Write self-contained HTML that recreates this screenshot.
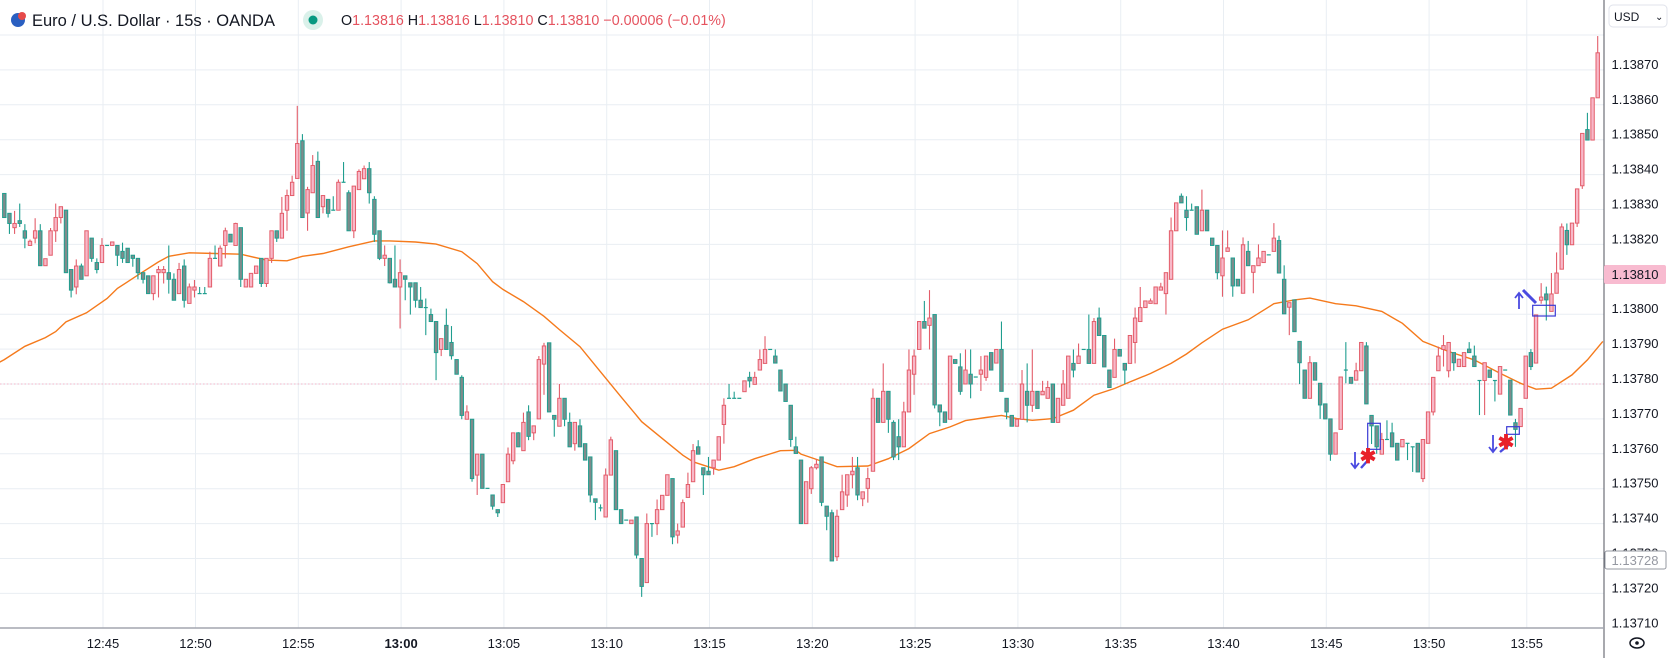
<!DOCTYPE html>
<html><head><meta charset="utf-8">
<style>
html,body{margin:0;padding:0;background:#fff;}
body{width:1677px;height:658px;overflow:hidden;position:relative;font-family:"Liberation Sans",sans-serif;}
svg{position:absolute;left:0;top:0;}
</style></head>
<body>
<svg id="chart" width="1677" height="658" viewBox="0 0 1677 658" xmlns="http://www.w3.org/2000/svg">
  <g id="grid"></g>
  <line x1="0" y1="384" x2="1604" y2="384" stroke="#f3b6c8" stroke-width="1" stroke-dasharray="1.5,2"/>
  <g id="ma"></g>
  <g id="candles"></g>
  <g id="annotations">
    <rect x="1367.7" y="423.3" width="12.6" height="26" fill="none" stroke="#3a3ad4" stroke-width="1.2"/>
    <path d="M1355,452 L1355,468 M1351,463 L1355,468 L1359,463" fill="none" stroke="#4a4ae0" stroke-width="1.8"/>
    <line x1="1361" y1="468" x2="1370" y2="458" stroke="#4a4ae0" stroke-width="2.4"/>
    <text x="1368" y="463" font-size="20" font-weight="bold" fill="#e8202a" text-anchor="middle">✱</text>
    <rect x="1506.7" y="426.7" width="12.6" height="7.6" fill="none" stroke="#3a3ad4" stroke-width="1.2"/>
    <path d="M1493,435 L1493,452 M1489,447 L1493,452 L1497,447" fill="none" stroke="#4a4ae0" stroke-width="1.8"/>
    <line x1="1500" y1="452" x2="1511" y2="443" stroke="#4a4ae0" stroke-width="2.4"/>
    <text x="1506" y="449" font-size="20" font-weight="bold" fill="#e8202a" text-anchor="middle">✱</text>
    <rect x="1532.7" y="305.3" width="22.6" height="10.7" fill="none" stroke="#3a3ad4" stroke-width="1.2"/>
    <path d="M1519,309 L1519,293 M1515,298 L1519,293 L1523,298" fill="none" stroke="#4a4ae0" stroke-width="1.8"/>
    <line x1="1523" y1="290" x2="1536" y2="303" stroke="#4a4ae0" stroke-width="3"/>
  </g>
  <rect x="1604" y="0" width="73" height="658" fill="#fff"/>
  <rect x="0" y="628" width="1604" height="30" fill="#fff"/>
  <line x1="1604" y1="0" x2="1604" y2="658" stroke="#50535e" stroke-width="1"/>
  <line x1="0" y1="628" x2="1604" y2="628" stroke="#a3a6af" stroke-width="1.5"/>
  <g id="yticks"></g>
  <g id="xticks"></g>
  <rect x="1604" y="265" width="62" height="19" rx="2" fill="#f8bbd0"/>
  <text x="1635" y="279" font-size="13" fill="#131722" text-anchor="middle">1.13810</text>
  <rect x="1605" y="551" width="61" height="18" rx="2" fill="#fff" stroke="#9598a1"/>
  <text x="1635" y="565" font-size="13" fill="#9598a1" text-anchor="middle">1.13728</text>
  <rect x="1609" y="5" width="58" height="22" rx="4" fill="#fff" stroke="#e0e3eb"/>
  <text x="1614" y="21" font-size="12" fill="#131722">USD</text>
  <text x="1655" y="20" font-size="10" fill="#131722">⌄</text>
  <g>
    <ellipse cx="1637" cy="643" rx="7" ry="5" fill="none" stroke="#131722" stroke-width="1.5"/>
    <circle cx="1637" cy="643" r="1.8" fill="#131722"/>
  </g>
  <g>
    <circle cx="18" cy="20" r="7" fill="#2a5fc1"/>
    <circle cx="22" cy="16" r="4" fill="#e64a4a"/>
    <text x="32" y="26" font-size="16.5" fill="#131722">Euro / U.S. Dollar · 15s · OANDA</text>
  </g>
  <circle cx="313" cy="20" r="10" fill="#daf1ea"/>
  <circle cx="313" cy="20" r="4.5" fill="#089981"/>
  <text x="341" y="25" font-size="14.3"><tspan fill="#131722">O</tspan><tspan fill="#e5535f">1.13816 </tspan><tspan fill="#131722">H</tspan><tspan fill="#e5535f">1.13816 </tspan><tspan fill="#131722">L</tspan><tspan fill="#e5535f">1.13810 </tspan><tspan fill="#131722">C</tspan><tspan fill="#e5535f">1.13810 −0.00006 (−0.01%)</tspan></text>
</svg>
<script>
const opens=[134.6,128.9,124.8,126.8,123.9,119.7,121.8,123.9,113.9,116.9,123.9,127.7,129.8,112.8,107.8,113.8,111,121.8,114.8,114.8,119.7,119.7,119.7,118,118.9,116.9,116,111.9,111,105.9,111.9,111.9,111.9,110,105.9,113.8,103.1,106.9,105.9,105.9,107.8,116,113.8,119.7,122.9,119.7,124.8,107.8,107.8,111.7,116,108.8,116,123.9,121.8,129.8,134,138.9,149.7,129,134.8,143.8,130.8,132.9,129.8,129.8,137.8,134.8,123.9,135.7,138.8,141.7,132.9,123.9,116,116,110,107.8,111,109,109,104,101.9,99.9,97.9,89.9,96.8,91.9,87,81.9,69.9,69.9,53.9,59.9,50.1,48.2,44,46,52,58,66,60.9,72,66,70,85.7,91.8,71,67.9,75.9,69,62.9,68,62.9,59.1,47.1,44.5,41.9,53.9,60.9,44,41,40,41.9,30,23.1,40,40,44,48.1,52.9,36.7,39,47.5,52,62,56,55,56,58.2,68.4,75.9,75.9,75.9,77.8,81.9,79.9,84,85.9,89.9,88,84,80,73.9,62,58.2,40,50,56,59.1,45,43.1,30.5,44,48.2,54,56,47.1,50.1,55,75.9,69,77.9,69,64.9,62,72,82.8,89.9,97.9,96.8,99.9,74,72,69.9,87,84.9,80,82.8,82,82.8,81.9,89,86,89.9,75.9,71,67.9,69.9,77.9,73.9,77.9,76.9,75.9,80,69,73.9,75.9,85.9,85.9,89.9,89.9,85.9,98.9,93.9,84,81.9,89.9,85.9,85.9,91.9,97.9,101.9,103.1,103,106.9,105.9,110,123.9,133.8,129.8,129.8,130.8,123.9,129.8,121.8,119.7,111,118,116.1,110,106,118,112,113.9,114.8,117,118,121.1,110,102,104.1,92.2,84,75.9,86.1,80.2,74.3,70,59.9,67,84,81.9,81.1,83.8,90.9,71,68,59.9,64.1,66,63,62,63,62,63,52.9,63,72,83.8,89.9,83.8,89,85,85,90,88,81,81,84,81,77.1,84,81.1,68.9,67.8,75.9,89,86,104,105.8,100.8,106,112.9,124,119.9,126.1,136.8,152.9,149.9,162];
const highs=[134.6,128.9,129.6,131.7,125.8,121.4,127.5,125.8,115.9,124.7,131.7,130.8,129.8,112.8,115.7,114.5,123.9,121.8,116,121.8,119.7,120.7,119.7,120.5,118.9,116.9,116,111.9,111,111,113.8,113.8,119.7,111.7,114.7,115.7,108.8,109.8,107.8,107.8,117.9,119.7,119.7,124.8,122.9,126.2,124.8,110,111.7,113.8,116,116,123.9,123.9,133.6,135.7,139.7,159.7,151.6,136.5,145.6,146.6,134,132.9,133.8,138.6,143.6,135.5,136.7,141.5,142.6,143.6,133.8,123.9,119.7,116,119.7,115.7,111,109,109,107.8,104.5,101.6,97.9,93,101.6,96.6,87,82.5,73.9,69.9,59.9,59.9,50.1,48.2,44,51.2,61.8,66,66.2,71.8,73.9,68,88,91.8,91.8,71,80,75.9,71.8,69,69.9,62.9,59.1,47.1,45.5,55.8,64.9,60.9,44,41,41,41.9,30,42.9,40,46.9,48.1,54,52.9,40,46.9,54.6,62.8,63.9,56,59.1,58.2,64.9,75.9,80,77.8,75.9,80.9,83.5,83.5,89.9,93.7,89.9,89.9,84,80,73.9,64.9,58.2,52,56.5,58.5,59.1,45,44,44,54,54,59.1,59.1,49.1,56,78.7,75.9,85.9,77.9,69.6,69.9,74.9,89.9,89.9,97.9,103.8,106.9,99.9,74,72,88,87,88.8,89.9,89.9,82,88,88,89,89.9,97.9,75.9,71,69.9,84,85.9,89.9,77.9,80.9,80.9,80,75.9,84,88,89.9,91.6,89.9,99.9,98.9,101.9,93.9,84,93,89.9,85.9,93.9,101.9,107.8,103.8,104.5,107.8,109,111.9,127.7,131.9,134.6,133.8,131.7,130.8,135.7,129.8,121.8,119.7,124,124,116.1,110,122,121,113.9,120,118,117,126.1,122.5,114,103.3,104.1,92.2,84,88,86.1,80.2,74.3,70,66,82,92,81.9,86.1,91.9,92,71,68,66,69.6,68.9,63,64.1,63,62,63,64.1,72,81.9,90.7,94,91.9,89,87.1,89,92,91,81,86.1,84,81,85,84,81.1,70,73,88,90,99.8,108.9,107.9,111.8,117.7,126,126,126.1,135.9,151.8,157.7,162,179.7];
const lows=[127.7,123,123,125,118.9,119.7,120.3,113.9,113.9,116.9,120.7,126,111.9,104.8,105.7,110,111,115,111.7,114.8,119.7,119.7,113.8,114.7,114.8,113.6,110,108.8,105.9,104,104.8,108.8,105.9,104,105.9,101.9,103.1,104.8,105.9,105.9,107.8,116,113.8,116,120.7,119.7,107.8,107.8,107.8,111.7,107.8,107.8,114.7,120.7,121.8,123.9,134,138.9,127.7,123.9,134.8,127.7,128.9,127.7,129.8,129.8,137.8,123.9,121.8,135.7,138.8,131.7,120.7,115.5,113.8,108.8,107.8,95.9,104,99.9,101.9,101.9,94,97.9,81.1,88,89.9,87,82.8,69.9,69.9,52,48.2,50.1,50.1,44,41.9,46,52,57,62,60.9,63.9,63.9,70,76.9,72,64.9,67.9,67.9,62,60.9,62,58.2,46.1,41,43.5,41.9,53.9,44,40,41,40,30,19,23.1,36.2,36.7,44,48.1,34.1,34.3,39,47.5,52,59.9,48.2,54,54,58.2,62.9,75.9,75.9,75.9,77.8,79,79.9,84,85.9,89.9,86,78,75,62,60.1,40,40,48.5,55.5,45,38.1,29.3,29.3,44,44.8,50.1,46.7,45,46,55,69,69,66,58.2,58.2,62,72,76.9,89.9,96,89.9,73,67.9,69,69.9,85.9,76.9,80,75.9,82,78,80.9,84,86,77.9,69.9,67.9,67.9,69.9,69,72,73,76.9,75.9,69,69,73.9,75.9,81.9,85.9,89.9,85.9,85.9,93.9,84.9,79,81.9,88,80,85.9,85.9,97.9,101.9,103.1,103,106.9,99.9,110,123.9,131.9,123.9,129.8,122.9,123.9,123.9,119.7,110,105,118,105,108.1,106,113.9,106,113.9,114.8,117,118,111.8,100.1,94,95,80,75.9,75.9,81.1,70,70,58,59.9,67,80.2,80.2,81.1,83.8,74.3,62.8,60,59.9,64.1,62,58.2,62,58.2,54.8,54.8,51.9,63,71,83.8,85,81.9,83.8,85,85,89,85,71.1,71.1,81.9,75,77.1,84,71.1,62,67.8,75.9,84,86,103,98.2,100.8,106,112.9,117,119.9,125,135.9,149.9,149.9,162];
const closes=[127.7,126,126,126,121.8,120.9,123.9,113.9,115.9,123.9,127.7,130.8,111.9,106.9,113.8,110,123.9,116,112.8,119.7,119.7,120.7,116.9,116,114.8,116,111.9,110,105.9,111,112.8,112.8,110,104,112.8,104,107.8,107.8,105.9,105.9,116,116,118.9,123.9,120.7,126,110,110,111.7,113.8,108.8,116,123.9,121.8,128.9,134,137.8,148.9,127.7,135.7,142.6,127.7,134,128.9,129.8,137.8,137.8,123.9,136.7,140.9,141.7,134.8,122.9,116,116.9,109,107.8,111.9,110,107.8,104,101.9,101.9,97.9,89,93,89.9,88.1,82.8,71,72,52.9,59.9,50.1,50.1,45,43.1,51.2,59.9,66,62,69,65,68,87,90.9,72,69.9,75.9,69.9,62,69,62,58.2,48.2,46.1,44.5,53.9,64,44,40,41,41,31,22,40,40,44,48.1,54,36.2,37.9,46,51.2,60.9,59.9,54,54,58.2,64.9,73.9,75.9,75.9,75.9,80.9,80.9,81.9,87,89.9,89.9,86,78,75,64.1,60.1,40,52,56,57,46.1,42.1,29.3,42.1,49.1,54,55,48.2,49.1,52.9,75.9,69,77.9,69.9,59.1,62,72,84,88,97.9,96,98.9,74,72,69,88,85.9,77.9,84,80,82,84,88,84,89.9,77.9,72,67.9,69.9,80,73.9,77.9,73,77.9,79,69,75.9,80,88,84,88,89.9,85.9,97.9,93.9,84.9,79,89.9,88,84,93.9,98.9,101.9,103.8,103.8,107.8,107.8,111.9,123.9,131.9,131.9,127.7,129.8,122.9,129.8,123.9,119.7,111.9,116.1,119,108.1,108.1,119.9,113.9,113.9,116.1,118,117,121.8,111.8,100.1,103.3,95,86.1,75.9,86.1,81.1,74,70,59.9,66,82,84,80.2,83.8,91.9,74.3,68,62,64.1,64.1,62,58.2,64.1,63,62,54.8,64.1,72,81.9,88,91,91.9,86.1,87.1,89,89,85,81,86.1,81.9,81,85,84,71.1,67,73,88,85,99.8,104.9,104.1,105.8,111.8,125,119.9,126.1,135.9,151.8,149.9,162,174.9];
const maIdx=[-1,0,4,8,10,12,16,20,22,26,30,32,36,41,46,51,55,58,62,67,72,75,80,84,89,92,95,97,101,105,108,112,116,120,124,128,132,134,139,142,146,151,154,155,158,162,168,172,176,180,184,187,191,194,197,200,204,208,212,216,219,223,227,230,233,237,242,247,251,254,259,263,268,272,276,281,286,291,295,298,301,305,308,311];
const maVal=[86.2,87,90.8,93.3,95,97.8,100.4,104.5,107.4,111.2,115,116.6,117.6,117.4,117.2,115.5,115.3,116.6,117.4,119.3,121,121,120.7,120.1,117.9,114.5,109.3,107.1,103.6,99.4,95.6,90.7,83.5,76.3,69.2,64.4,59.6,57.7,55.3,56.3,58.6,60.9,61,59.9,58.4,56.3,56.5,58.6,61.5,65.8,67.7,69.5,70.4,71,70.1,69.6,70.1,72.5,76.8,78.7,80.6,83,85.9,88.6,91.8,95.7,98.4,103,104.1,104.6,103,102.4,100.8,97.4,92.2,89.3,86.9,83.1,80.2,78.5,78.8,82.6,86.9,92.2];
const priceTicks=[170,160,150,140,130,120,110,100,90,80,70,60,50,40,30,20,10];
const timeLabels=["12:40","12:45","12:50","12:55","13:00","13:05","13:10","13:15","13:20","13:25","13:30","13:35","13:40","13:45","13:50","13:55"];
const timeIdx=[-21,19.2,37.2,57.2,77.2,97.2,117.2,137.2,157.2,177.2,197.2,217.2,237.2,257.2,277.2,296.2];

const NS="http://www.w3.org/2000/svg";
function yOf(v){return 384-(v-80)*3.49;}
function xOf(i){return 4.3+i*5.14;}
function mk(tag,attrs,parent){const e=document.createElementNS(NS,tag);for(const k in attrs)e.setAttribute(k,attrs[k]);parent.appendChild(e);return e;}

const grid=document.getElementById('grid');
[180].concat(priceTicks).forEach(v=>{
  const l=mk('line',{x1:0,x2:1604,y1:yOf(v),y2:yOf(v),stroke:'#e9eef3','stroke-width':1},grid);
  
  
});
timeIdx.forEach(i=>{
  const l=mk('line',{x1:xOf(i),x2:xOf(i),y1:0,y2:628,stroke:'#e9eef3','stroke-width':1},grid);
  
  
});

const cg=document.getElementById('candles');
for(let i=0;i<closes.length;i++){
  const o=opens[i],c=closes[i],h=highs[i],lo=lows[i];
  const up=c>o;
  const stroke=up?'#e35d6a':'#1f9e8f';
  const fill=up?'#f8b8c8':'#7e8b8b';
  const x=xOf(i);
  const g=mk('g',{},cg);
  
  
  mk('line',{x1:x,x2:x,y1:yOf(h),y2:yOf(lo),stroke:stroke,'stroke-width':1.1},g);
  const top=yOf(Math.max(o,c)),bot=yOf(Math.min(o,c));
  if(bot-top<0.8){
    mk('line',{x1:x-2,x2:x+2,y1:top,y2:top,stroke:stroke,'stroke-width':1.2},g);
  }else{
    mk('rect',{x:x-1.7,y:top,width:3.4,height:bot-top,fill:fill,stroke:stroke,'stroke-width':1},g);
  }
}

const mg=document.getElementById('ma');
let d='';
maIdx.forEach((i,k)=>{d+=(k?'L':'M')+xOf(i).toFixed(1)+','+yOf(maVal[k]).toFixed(1);});
const p=mk('path',{d:d,fill:'none',stroke:'#f57a1c','stroke-width':1.4},mg);



const yt=document.getElementById('yticks');
priceTicks.forEach(v=>{
  const t=mk('text',{x:1635,y:yOf(v)-1,'font-size':13,fill:'#131722','text-anchor':'middle'},yt);
  t.textContent=(1.137+v/100000).toFixed(5);
  
  
});
const xt=document.getElementById('xticks');
timeLabels.forEach((s,k)=>{
  const t=mk('text',{x:xOf(timeIdx[k]),y:648,'font-size':13,fill:'#131722','text-anchor':'middle','font-weight':s==='13:00'?'bold':'normal'},xt);
  t.textContent=s;
  
  
});
</script>
</body></html>
